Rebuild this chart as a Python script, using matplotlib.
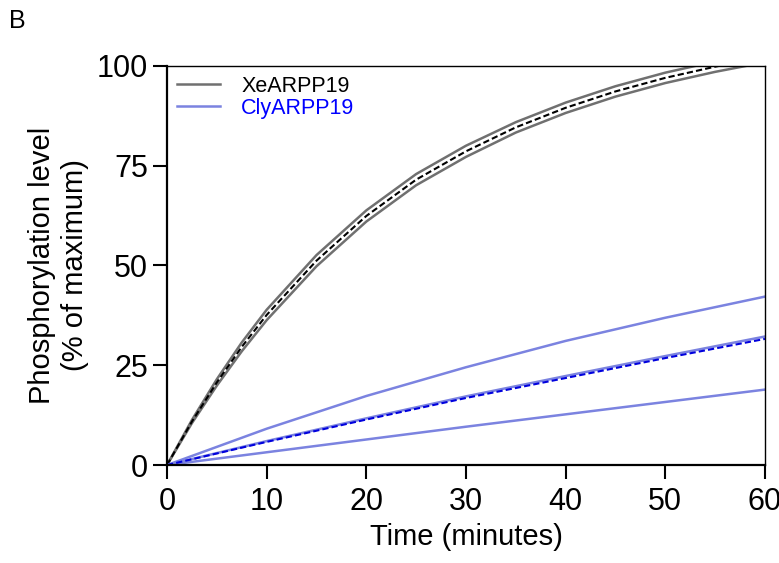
import matplotlib.pyplot as plt
import numpy as np

plt.rcParams['font.family'] = ['Liberation Sans', 'DejaVu Sans']

# time points (minutes)
t_xe = [0, 2.5, 5, 7.5, 10, 15, 20, 25, 30, 35, 40, 45, 50, 55, 60]
xe_mean = [0, 10.9, 20.7, 29.6, 37.6, 51.2, 62.4, 71.5, 78.6, 84.6, 89.5, 93.6, 97.0, 99.8, 102.2]
xe_upper = [0, 11.3, 21.5, 30.7, 38.9, 52.6, 63.8, 72.9, 80.0, 85.9, 90.8, 94.9, 98.3, 101.1, 103.5]
xe_lower = [0, 10.5, 19.9, 28.5, 36.3, 49.8, 61.0, 70.1, 77.2, 83.3, 88.2, 92.3, 95.7, 98.5, 100.9]

t_cly = [0, 10, 20, 30, 40, 50, 60]
cly_mean = [0, 5.8, 11.4, 16.8, 21.8, 26.8, 31.6]
cly_mid = [0, 6.0, 11.7, 17.2, 22.3, 27.3, 32.2]
cly_upper = [0, 9.1, 17.3, 24.5, 31.1, 36.9, 42.2]
cly_lower = [0, 3.2, 6.4, 9.6, 12.7, 15.8, 18.9]

gray = '#707070'
lav = '#7b83e0'

fig = plt.figure(figsize=(7.79, 5.63), dpi=100)
ax = fig.add_axes([0.2144, 0.174, 0.7676, 0.709])

ax.plot(t_xe, xe_upper, color=gray, lw=1.8, label='XeARPP19')
ax.plot(t_xe, xe_lower, color=gray, lw=1.8)
ax.plot(t_xe, xe_mean, color='black', lw=1.5, ls=(0, (3, 1.5)))

ax.plot(t_cly, cly_upper, color=lav, lw=1.8, label='ClyARPP19')
ax.plot(t_cly, cly_mid, color=lav, lw=1.8)
ax.plot(t_cly, cly_lower, color=lav, lw=1.8)
ax.plot(t_cly, cly_mean, color='#0000dd', lw=1.5, ls=(0, (3, 1.5)))

ax.set_xlim(0, 60)
ax.set_ylim(0, 100)
ax.set_xticks([0, 10, 20, 30, 40, 50, 60])
ax.set_yticks([0, 25, 50, 75, 100])
ax.tick_params(labelsize=22, width=1.5, length=10, direction='out')
ax.tick_params(axis='x', pad=6)
for s in ['left', 'bottom']:
    ax.spines[s].set_linewidth(1.6)
for s in ['top', 'right']:
    ax.spines[s].set_linewidth(1.0)

ax.set_xlabel('Time (minutes)', fontsize=21, labelpad=4)
ax.set_ylabel('Phosphorylation level\n(% of maximum)', fontsize=21, labelpad=6)

leg = ax.legend(loc='upper left', fontsize=15.5, frameon=False, handlelength=2.0,
                borderaxespad=0.05, handletextpad=1.0, labelspacing=0.05)
leg.get_texts()[1].set_color('#0000ff')

fig.text(0.012, 0.95, 'B', fontsize=18)

fig.savefig('out.png', dpi=100)
